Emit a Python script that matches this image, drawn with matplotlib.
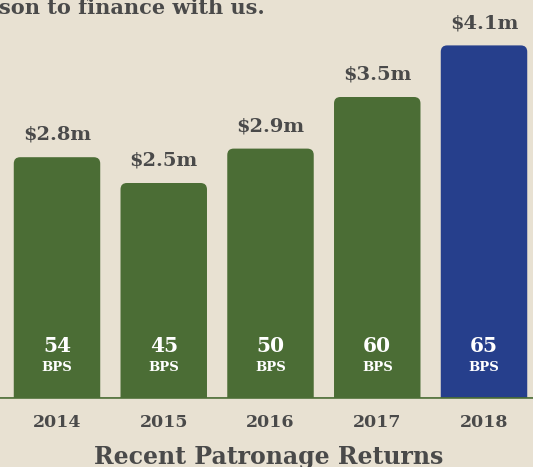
import numpy as np
import matplotlib.pyplot as plt
from matplotlib.patches import FancyBboxPatch

years = ['2014', '2015', '2016', '2017', '2018']
returns = [2.8, 2.5, 2.9, 3.5, 4.1]
bps = [54, 45, 50, 60, 65]
colors = ['#4b6d35', '#4b6d35', '#4b6d35', '#4b6d35', '#263f8c']

bg = '#e8e1d2'
txt = '#4a4a4a'
serif = 'DejaVu Serif'

fig = plt.figure(figsize=(5.33, 4.67), dpi=100, facecolor=bg)
ax = fig.add_axes([0, 0, 1, 1])
ax.set_facecolor(bg)
# 106.75 px per bar step, 86 px per million
ax.set_xlim(-57 / 106.75, (533 - 57) / 106.75)
ax.set_ylim(-69 / 86, (467 - 69) / 86)
ax.axis('off')

x = np.arange(len(years))
bars = ax.bar(x, returns, width=0.81, color=colors)

# swap plain bars for rounded-top ones
asp = 106.75 / 86
for b, c in zip(bars, colors):
    b.set_visible(False)
    p = FancyBboxPatch((b.get_x(), -0.3), b.get_width(), b.get_height() + 0.3,
                       boxstyle='round,pad=0,rounding_size=0.06',
                       mutation_aspect=asp, facecolor=c, edgecolor='none')
    ax.add_patch(p)

ax.axhline(0, color='#4b6d35', lw=2)
ax.fill_between([-1, 5], -0.8, -0.012, color=bg, zorder=2)

for i in range(len(years)):
    ax.text(x[i], returns[i] + 0.26, '$%.1fm' % returns[i], ha='center', va='center',
            fontsize=14, fontweight='bold', family=serif, color=txt)
    ax.text(x[i], 0.6, str(bps[i]), ha='center', va='center',
            fontsize=14.5, fontweight='bold', family=serif, color='white', zorder=3)
    ax.text(x[i], 0.355, 'BPS', ha='center', va='center',
            fontsize=9.5, fontweight='bold', family=serif, color='white', zorder=3)
    ax.text(x[i], -0.28, years[i], ha='center', va='center',
            fontsize=12.5, fontweight='bold', family=serif, color=txt, zorder=3)

fig.text(-0.002, 0.982, 'son to finance with us.', ha='left', va='center',
         fontsize=15, fontweight='bold', family=serif, color=txt)
fig.text(0.505, 0.022, 'Recent Patronage Returns', ha='center', va='center',
         fontsize=17, fontweight='bold', family=serif, color=txt)

fig.savefig('out.png', dpi=100, facecolor=bg)
